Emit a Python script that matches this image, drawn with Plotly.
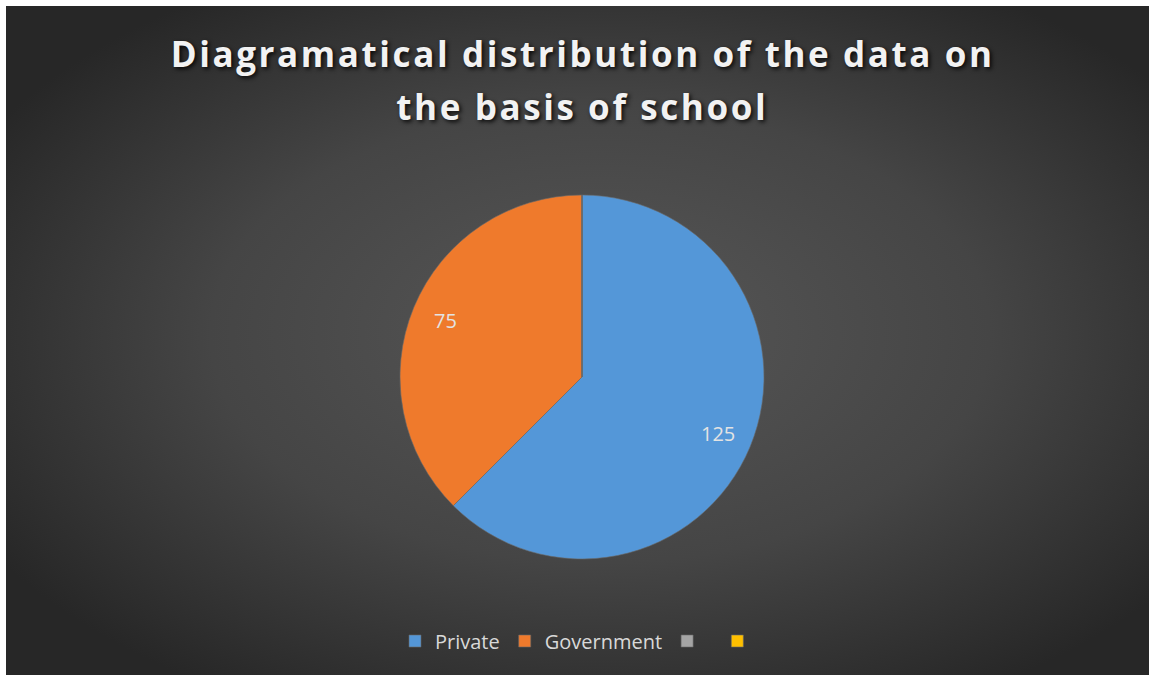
import base64
import math
import plotly.graph_objects as go

# ---- data ----
categories = ["Private", "Government", " ", "  "]
values = [125, 75, 0, 0]
slice_colors = ["#5497d8", "#ef7a2c", "#a5a5a5", "#ffc000"]
title_lines = ["Diagramatical distribution of the data on", "the basis of school"]

OFF = 6                       # white border at top/left of the page
W, H = 1149 - OFF, 675 - OFF  # figure size

# radial gradient background as svg image
svg = f'''<svg xmlns="http://www.w3.org/2000/svg" width="{W}" height="{H}" viewBox="0 0 {W} {H}" preserveAspectRatio="none">
<defs><radialGradient id="g" cx="0.52" cy="0.5" r="0.62" fx="0.52" fy="0.48">
<stop offset="0" stop-color="#575757"/><stop offset="0.55" stop-color="#454545"/><stop offset="1" stop-color="#272727"/></radialGradient></defs>
<rect width="{W}" height="{H}" fill="url(#g)"/></svg>'''
src = "data:image/svg+xml;base64," + base64.b64encode(svg.encode()).decode()

# pie geometry in figure pixels
cx, cy, R = 582 - OFF, 377 - OFF, 182
dom_x = [(cx - 300) / W, (cx + 300) / W]
dom_y = [(H - cy - R) / H, (H - cy + R) / H]

fig = go.Figure()
fig.add_trace(go.Pie(
    labels=categories,
    values=values,
    textinfo="none",
    sort=False,
    direction="clockwise",
    rotation=0,
    marker=dict(colors=slice_colors, line=dict(color="#6a6a6a", width=0.6)),
    domain=dict(x=dom_x, y=dom_y),
    showlegend=True,
    hoverinfo="label+value",
))

# value labels placed at 0.81 R along each slice's mid-angle
annotations = []
total = sum(values)
cum = 0
for lab, v in zip(categories, values):
    if v > 0:
        mid = (cum + v / 2) / total * 2 * math.pi
        px = cx + 0.81 * R * math.sin(mid)
        py = cy - 0.81 * R * math.cos(mid)
        annotations.append(dict(
            text=str(v), x=px / W, y=1 - py / H, xref="paper", yref="paper",
            showarrow=False, xanchor="center", yanchor="middle",
            font=dict(family="Open Sans", size=20, color="#e3e3e3"),
        ))
    cum += v

title_y = [54 - OFF, 106 - OFF]
title_anns = []
for line, ty in zip(title_lines, title_y):
    title_anns.append(dict(
        text=line, x=(582 - OFF) / W, y=1 - ty / H, xref="paper", yref="paper",
        showarrow=False, xanchor="center", yanchor="middle",
        font=dict(family="Open Sans", size=35, color="#f2f2f2", weight="bold",
                  shadow="2px 2px 4px rgba(0,0,0,0.85)"),
    ))

fig.update_layout(
    width=W, height=H,
    margin=dict(l=0, r=0, t=0, b=0),
    paper_bgcolor="#2e2e2e",
    plot_bgcolor="rgba(0,0,0,0)",
    images=[dict(source=src, xref="paper", yref="paper", x=0, y=1,
                 sizex=1, sizey=1, xanchor="left", yanchor="top",
                 sizing="stretch", layer="below")],
    annotations=title_anns + annotations,
    legend=dict(
        orientation="h", x=(584 - OFF) / W, xanchor="center", y=1 - (641 - OFF) / H,
        yanchor="middle",
        font=dict(family="Open Sans", size=20, color="#d9d9d9"),
        bgcolor="rgba(0,0,0,0)", itemclick=False,
    ),
)

post = """
document.documentElement.style.overflow = 'hidden';
document.body.style.margin = '%dpx 0 0 %dpx';
document.body.style.overflow = 'hidden';
document.querySelectorAll('.annotation[data-index="0"] text, .annotation[data-index="1"] text')
  .forEach(function(e){ e.style.letterSpacing = '2.6px'; });
""" % (OFF, OFF)
fig.write_html("out.html", post_script=post)
